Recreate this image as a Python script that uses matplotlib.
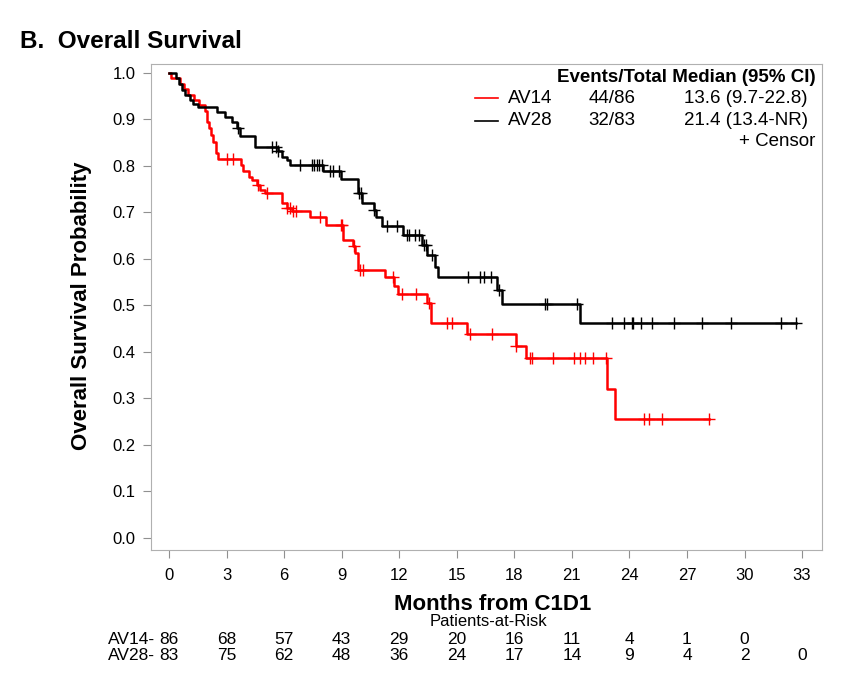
import numpy as np
import matplotlib.pyplot as plt
import matplotlib.transforms as mtransforms
from matplotlib.lines import Line2D

plt.rcParams['font.family'] = ['Liberation Sans', 'DejaVu Sans']

# AV14 (red) event times and survival after each event
av14_t = [0.1, 0.55, 0.8, 1.0, 1.3, 1.55, 1.85, 2.0, 2.08, 2.2, 2.3, 2.45, 2.55,
          3.73, 3.83, 4.18, 4.3, 4.56, 4.74, 5.0, 5.87, 6.13, 6.39, 7.35, 8.2,
          9.09, 9.6, 9.7, 9.87, 11.26, 11.74, 11.95, 13.43, 13.64, 15.52,
          18.08, 18.6, 22.85, 23.25]
av14_s = [0.988, 0.977, 0.965, 0.953, 0.942, 0.930, 0.917, 0.895, 0.881, 0.867, 0.851, 0.827, 0.815,
          0.802, 0.788, 0.777, 0.770, 0.759, 0.748, 0.741, 0.720, 0.709, 0.702, 0.690, 0.673,
          0.641, 0.627, 0.612, 0.576, 0.561, 0.542, 0.525, 0.505, 0.462, 0.438,
          0.413, 0.387, 0.320, 0.256]
av14_cens = [3.0, 3.35, 4.65, 5.09, 6.13, 6.3, 6.48, 6.62, 7.87, 8.95, 9.0, 9.65,
             9.96, 10.1, 11.7, 12.17, 12.9, 13.55, 14.5, 14.75, 15.7, 16.85, 18.1,
             18.8, 18.9, 20.0, 21.1, 21.4, 21.7, 22.1, 22.8, 24.75, 25.0, 25.7, 28.15]

# AV28 (black)
av28_t = [0.36, 0.54, 0.66, 0.83, 1.1, 1.27, 1.53, 2.49, 2.92, 3.26, 3.56, 3.7,
          4.48, 5.7, 5.87, 6.13, 6.3, 8.05, 8.97, 9.85, 10.05, 10.7, 10.78,
          11.09, 12.2, 13.17, 13.46, 13.87, 14.04, 17.1, 17.34, 21.43]
av28_s = [0.988, 0.976, 0.964, 0.952, 0.942, 0.933, 0.926, 0.915, 0.904, 0.894, 0.881, 0.865,
          0.841, 0.831, 0.820, 0.813, 0.801, 0.788, 0.772, 0.741, 0.720, 0.705, 0.691,
          0.670, 0.652, 0.630, 0.609, 0.583, 0.561, 0.533, 0.503, 0.463]
av28_cens = [3.6, 5.35, 5.6, 5.7, 6.83, 7.44, 7.56, 7.7, 7.83, 7.99, 8.4, 8.57, 8.88,
             9.9, 10.0, 10.7, 11.35, 11.87, 12.4, 12.5, 12.83, 13.05, 13.3, 13.4, 13.7,
             15.6, 16.2, 16.4, 16.77, 17.2, 19.6, 19.7, 21.25, 23.08, 23.72, 24.12,
             24.2, 24.59, 25.16, 26.34, 27.77, 29.28, 31.9, 32.7]

risk_times = [0, 3, 6, 9, 12, 15, 18, 21, 24, 27, 30, 33]
av14_risk = [86, 68, 57, 43, 29, 20, 16, 11, 4, 1, 0]
av28_risk = [83, 75, 62, 48, 36, 24, 17, 14, 9, 4, 2, 0]

W, H = 850, 682
fig = plt.figure(figsize=(8.5, 6.82), dpi=100)
ax = fig.add_axes([151 / W, 1 - 550 / H, 671 / W, 486 / H])


def km_curve(t, s, cens):
    end = max(max(t), max(cens))
    tt = np.concatenate([[0], t, [end]])
    ss = np.concatenate([[1.0], s, [s[-1]]])
    idx = np.searchsorted(np.array(t), np.array(cens), side='right')
    cs = np.concatenate([[1.0], s])[idx]
    return tt, ss, cs


for t, s, c, col in [(av14_t, av14_s, av14_cens, 'red'), (av28_t, av28_s, av28_cens, 'black')]:
    tt, ss, cs = km_curve(t, s, c)
    ax.step(tt, ss, where='post', color=col, lw=1.8)
    ax.plot(c, cs, ls='none', marker='+', ms=9, mew=1.0, color=col)

ax.set_xlim(-0.94, 34.04)
ax.set_ylim(-0.026, 1.019)
ax.set_xticks(risk_times)
ax.set_yticks(np.arange(0, 1.01, 0.1))
ax.set_yticklabels([f'{v:.1f}' for v in np.arange(0, 1.01, 0.1)])
for sp in ax.spines.values():
    sp.set_color('#b0b0b0')
ax.tick_params(colors='#909090', labelcolor='black', labelsize=12, length=6, width=0.8)
ax.tick_params(axis='x', pad=7)
ax.tick_params(axis='y', pad=5)

fig.text(20 / W, 1 - 42 / H, 'B.  Overall Survival', fontsize=17.5, fontweight='bold', va='center', ha='left')
fig.text(82 / W, 1 - 306 / H, 'Overall Survival Probability', fontsize=16, fontweight='bold',
         rotation=90, va='center', ha='center')
fig.text(493 / W, 1 - 605 / H, 'Months from C1D1', fontsize=16, fontweight='bold', va='center', ha='center')
fig.text(488 / W, 1 - 622 / H, 'Patients-at-Risk', fontsize=12, va='center', ha='center')

# legend block
ax.text(0.990, 0.973, 'Events/Total Median (95% CI)', transform=ax.transAxes, fontsize=13.5,
        fontweight='bold', ha='right', va='center')
rows = [('red', 'AV14', '44/86', '13.6 (9.7-22.8)', 0.930),
        ('black', 'AV28', '32/83', '21.4 (13.4-NR)', 0.883)]
for col, name, ev, med, yy in rows:
    ax.add_line(Line2D([0.483, 0.517], [yy, yy], transform=ax.transAxes, color=col, lw=1.2))
    ax.text(0.532, yy, name, transform=ax.transAxes, fontsize=13.5, ha='left', va='center')
    ax.text(0.687, yy, ev, transform=ax.transAxes, fontsize=13.5, ha='center', va='center')
    ax.text(0.979, yy, med, transform=ax.transAxes, fontsize=13.5, ha='right', va='center')
ax.text(0.990, 0.840, '+ Censor', transform=ax.transAxes, fontsize=13.5, ha='right', va='center')

# at-risk table
btrans = mtransforms.blended_transform_factory(ax.transData, fig.transFigure)
for label, vals, yy in [('AV14-', av14_risk, 639), ('AV28-', av28_risk, 655)]:
    fig.text(155 / W, 1 - yy / H, label, fontsize=12.5, ha='right', va='center')
    for x, v in zip(risk_times, vals):
        ax.text(x, 1 - yy / H, str(v), transform=btrans, fontsize=12.5, ha='center', va='center',
                clip_on=False)

fig.savefig('out.png', dpi=100)
